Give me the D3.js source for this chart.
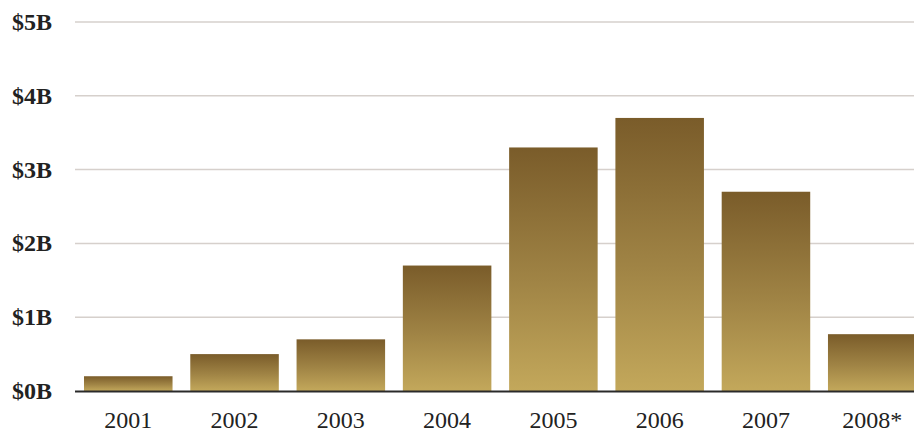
<!DOCTYPE html>
<html><head><meta charset="utf-8">
<script src="https://cdn.jsdelivr.net/npm/d3@7"></script>
<style>html,body{margin:0;padding:0;background:#fff;}svg{display:block;}</style>
</head><body>
<svg id="c" width="914" height="434"></svg>
<script>
const categories = ["2001","2002","2003","2004","2005","2006","2007","2008*"];
const values = [0.2, 0.5, 0.7, 1.7, 3.3, 3.7, 2.7, 0.77];
const yTicks = [0,1,2,3,4,5];
const yTickLabels = ["$0B","$1B","$2B","$3B","$4B","$5B"];

const svg = d3.select("#c");
const y = d3.scaleLinear().domain([0,5]).range([391,22]);
const x = d3.scaleBand().domain(categories).range([84,916.5]).paddingInner(0.167).paddingOuter(0);

const defs = svg.append("defs");
const g = defs.append("linearGradient").attr("id","gold").attr("x1",0).attr("y1",0).attr("x2",0).attr("y2",1);
g.append("stop").attr("offset","0%").attr("stop-color","#7a5c2a");
g.append("stop").attr("offset","55%").attr("stop-color","#a08445");
g.append("stop").attr("offset","100%").attr("stop-color","#c3a85b");

// gridlines
svg.append("g").selectAll("line").data(yTicks.filter(d=>d>0)).join("line")
  .attr("x1",75).attr("x2",914).attr("y1",d=>y(d)).attr("y2",d=>y(d))
  .attr("stroke","#d6d0cc").attr("stroke-width",1.5);

// y labels
svg.append("g").selectAll("text").data(yTicks).join("text")
  .attr("x",12).attr("y",d=>y(d)+8)
  .attr("font-family","'Liberation Serif', serif").attr("font-weight","bold")
  .attr("font-size",24).attr("fill","#222")
  .text((d,i)=>yTickLabels[i]);

// bars
svg.append("g").selectAll("rect").data(values).join("rect")
  .attr("x",(d,i)=>x(categories[i])).attr("width",x.bandwidth())
  .attr("y",d=>y(d)).attr("height",d=>y(0)-y(d))
  .attr("fill","url(#gold)");

// baseline
svg.append("line").attr("x1",75).attr("x2",914).attr("y1",y(0)+0.5).attr("y2",y(0)+0.5)
  .attr("stroke","#2a2a2a").attr("stroke-width",2);

// x labels
const xa = d3.axisBottom(x).tickSize(0).tickPadding(0);
const xg = svg.append("g").attr("transform","translate(0,0)").call(xa);
xg.select(".domain").remove();
xg.selectAll("text").attr("y",428).attr("dy",null)
  .attr("font-family","'Liberation Serif', serif").attr("font-size",24).attr("fill","#222");
</script>
</body></html>
